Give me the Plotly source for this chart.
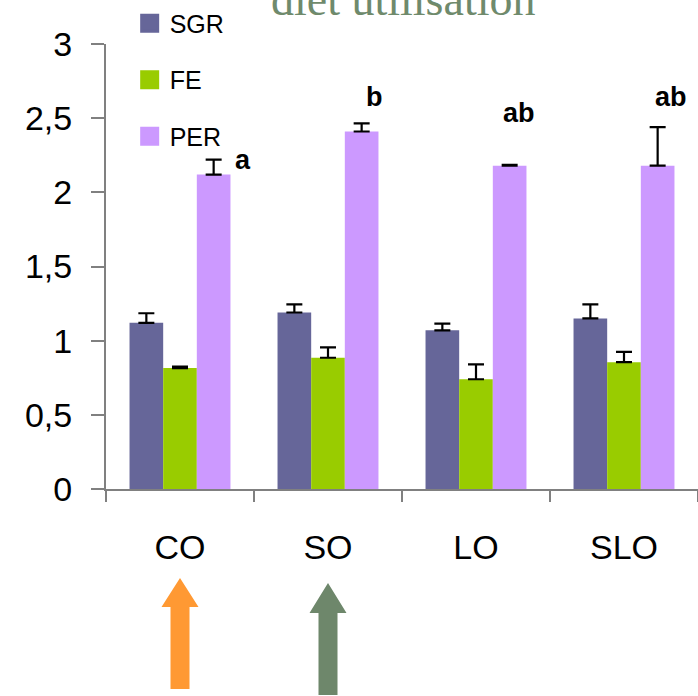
import plotly.graph_objects as go

# Diet groups and measured indices (mean + SE)
diets = ["CO", "SO", "LO", "SLO"]
sgr = [1.12, 1.19, 1.07, 1.15]
sgr_se = [0.065, 0.055, 0.045, 0.095]
fe = [0.815, 0.885, 0.74, 0.855]
fe_se = [0.01, 0.07, 0.10, 0.07]
per = [2.12, 2.41, 2.18, 2.18]
per_se = [0.10, 0.055, 0.006, 0.26]

# Significance letters for PER
per_letters = ["a", "b", "ab", "ab"]

y_tickvals = [0, 0.5, 1, 1.5, 2, 2.5, 3]
y_ticktext = ["0", "0,5", "1", "1,5", "2", "2,5", "3"]

series = [
    ("SGR", sgr, sgr_se, "#666699"),
    ("FE", fe, fe_se, "#99CC00"),
    ("PER", per, per_se, "#CC99FF"),
]

FONT = "Liberation Sans, Arial, sans-serif"

fig = go.Figure()
for name, vals, se, color in series:
    fig.add_trace(go.Bar(
        x=diets, y=vals, name=name, marker_color=color, marker_line_width=0,
        error_y=dict(type="data", array=se, arrayminus=[0] * len(se), symmetric=False,
                     color="black", thickness=2.2, width=8),
        showlegend=False, legendgroup=name,
    ))

# Larger square legend keys
for name, vals, se, color in series:
    fig.add_trace(go.Scatter(
        x=[None], y=[None], mode="markers", name=name, legendgroup=name,
        marker=dict(symbol="square", size=16, color=color, line=dict(color=color, width=3)),
    ))

# Significance letters above the PER bars
letter_y = [2.22, 2.64, 2.535, 2.64]
letter_shift = [63, 46, 43, 47]
for d, lab, yy, sh in zip(diets, per_letters, letter_y, letter_shift):
    fig.add_annotation(x=d, y=yy, text=f"<b>{lab}</b>", showarrow=False,
                       xshift=sh, font=dict(family=FONT, size=27, color="black"))

# Title text, partly above the canvas
fig.add_annotation(xref="paper", yref="paper", x=0.502, y=1.099, text="diet utilisation",
                   showarrow=False, yanchor="middle",
                   font=dict(family="Liberation Serif, Times New Roman, serif", size=46, color="#6F8A6C"))

# Arrows under the CO and SO groups
def arrow_path(top, base, bottom, head_hw=18.5, shaft_hw=9.5):
    return (f"M0,{top} L{head_hw},{base} L{shaft_hw},{base} L{shaft_hw},{bottom} "
            f"L{-shaft_hw},{bottom} L{-shaft_hw},{base} L{-head_hw},{base} Z")

for idx, color, top, base, bottom in [(0, "#FF9933", -89, -118, -200),
                                       (1, "#6E876B", -94, -124, -206)]:
    fig.add_shape(type="path", xref="paper", yref="paper",
                  xsizemode="pixel", ysizemode="pixel",
                  xanchor=(idx + 0.5) / len(diets), yanchor=0,
                  path=arrow_path(top, base, bottom),
                  fillcolor=color, line=dict(width=0))

fig.update_layout(
    width=698, height=696,
    margin=dict(l=106, r=0, t=44, b=207),
    paper_bgcolor="white", plot_bgcolor="white",
    barmode="group", bargap=0.318, bargroupgap=0,
    showlegend=True,
    legend=dict(x=0.04, y=1.098, xanchor="left", yanchor="top",
                font=dict(family=FONT, size=25, color="black"),
                bgcolor="rgba(0,0,0,0)", tracegroupgap=21, itemsizing="trace",
                borderwidth=0),
    font=dict(family=FONT, color="black"),
)
fig.update_xaxes(
    showline=True, linecolor="#808080", linewidth=2,
    ticks="outside", tickson="boundaries", ticklen=11, tickcolor="#808080", tickwidth=2,
    tickfont=dict(family=FONT, size=34, color="black"), ticklabelstandoff=27,
    showgrid=False, zeroline=False,
)
fig.update_yaxes(
    range=[0, 3], tickvals=y_tickvals, ticktext=y_ticktext,
    showline=True, linecolor="#808080", linewidth=2,
    ticks="outside", ticklen=13, tickcolor="#808080", tickwidth=2,
    tickfont=dict(family=FONT, size=34, color="black"), ticklabelstandoff=12,
    showgrid=False, zeroline=False,
)

fig.write_html("out.html")
